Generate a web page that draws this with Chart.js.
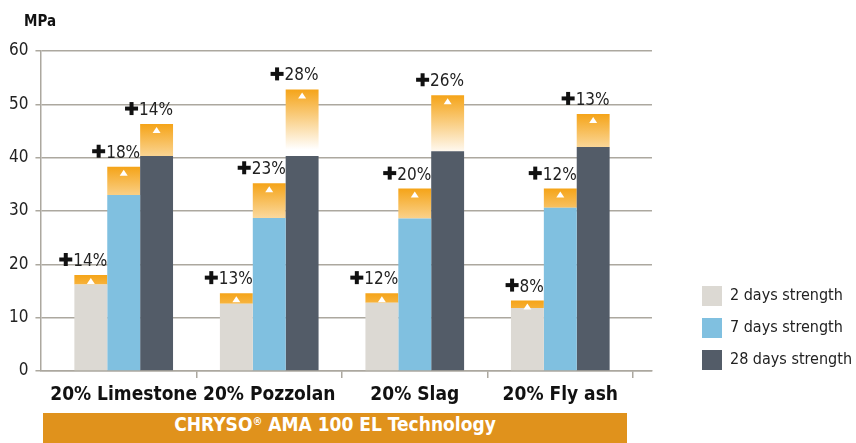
<!DOCTYPE html>
<html>
<head>
<meta charset="utf-8">
<script src="https://cdn.jsdelivr.net/npm/chart.js@4.4.1/dist/chart.umd.min.js"></script>
<style>
html, body { margin: 0; padding: 0; background: #fff; }
#wrap { position: relative; width: 856px; height: 443px; }
#banner {
  position: absolute; left: 43px; top: 413px; width: 584px; height: 30px;
  background: #e0921c; color: #fff; text-align: center; line-height: 31px;
  font: bold 19px 'DejaVu Sans Condensed', sans-serif;
}
#banner sup { font-size: 11px; vertical-align: 6px; line-height: 0; }
</style>
</head>
<body>
<div id="wrap">
  <canvas id="strength-chart" width="856" height="443"></canvas>
  <div id="banner">CHRYSO<sup>®</sup> AMA 100 EL Technology</div>
</div>
<script>
var categories = ['20% Limestone', '20% Pozzolan', '20% Slag', '20% Fly ash'];
var seriesNames = ['2 days strength', '7 days strength', '28 days strength'];

// MPa, reference mix
var ref2 = [16.2, 12.6, 12.8, 11.8];
var ref7 = [33.0, 28.7, 28.6, 30.6];
var ref28 = [40.3, 40.3, 41.2, 42.0];
// MPa, with admixture (top of orange part)
var amp2 = [18.0, 14.6, 14.6, 13.2];
var amp7 = [38.3, 35.2, 34.2, 34.2];
var amp28 = [46.3, 52.8, 51.7, 48.2];
// gain printed above bars, %
var gain2 = [14, 13, 12, 8];
var gain7 = [18, 23, 20, 12];
var gain28 = [14, 28, 26, 13];

var yMax = 60, yStep = 10;

var FONT = "'DejaVu Sans Condensed', sans-serif";
var GRID = '#aca89f';
var ORANGE = '#f5a418';

var refs = [ref2, ref7, ref28];
var amps = [amp2, amp7, amp28];
var gains = [gain2, gain7, gain28];
var colors = ['#dcd9d3', '#80c0e0', '#535c68'];
var stacks = ['d2', 'd7', 'd28'];

function points(arr) {
  return arr.map(function (v, i) { return { x: i, y: v }; });
}

// orange part fades to white about 60px below its top
function incFill(k) {
  return function (ctx) {
    var chart = ctx.chart;
    if (!chart.chartArea || ctx.dataIndex === undefined) return ORANGE;
    var top = chart.scales.y.getPixelForValue(amps[k][ctx.dataIndex]);
    var g = chart.ctx.createLinearGradient(0, top, 0, top + 60);
    g.addColorStop(0, ORANGE);
    g.addColorStop(1, '#ffffff');
    return g;
  };
}

var datasets = [];
for (var k = 0; k < 3; k++) {
  datasets.push({
    label: seriesNames[k],
    data: points(refs[k]),
    backgroundColor: colors[k],
    stack: stacks[k]
  });
}
for (var k = 0; k < 3; k++) {
  datasets.push({
    label: '',
    data: points(amps[k].map(function (v, i) { return v - refs[k][i]; })),
    backgroundColor: incFill(k),
    stack: stacks[k]
  });
}

function drawPlus(c, x, y, s, t) {
  c.fillRect(x, y - t / 2, s, t);
  c.fillRect(x + s / 2 - t / 2, y - s / 2, t, s);
}

var gainLabels = {
  id: 'gainLabels',
  afterLayout: function (chart) {
    // legend sits flush with the bottom of the plot
    chart.legend.top += 11;
    chart.legend.bottom += 11;
  },
  afterDatasetsDraw: function (chart) {
    var c = chart.ctx;
    c.save();
    for (var k = 0; k < 3; k++) {
      var meta = chart.getDatasetMeta(k + 3);
      meta.data.forEach(function (el, i) {
        // small white arrow
        c.fillStyle = '#ffffff';
        c.beginPath();
        c.moveTo(el.x, el.y + 3);
        c.lineTo(el.x + 4, el.y + 9);
        c.lineTo(el.x - 4, el.y + 9);
        c.closePath();
        c.fill();
        // +xx% label
        c.font = '17px ' + FONT;
        var txt = gains[k][i] + '%';
        var tw = c.measureText(txt).width;
        var right = el.x + el.width / 2 + 1;
        var base = el.y - 9;
        var px = right - tw - 15;
        c.fillStyle = '#111';
        drawPlus(c, px, base - 6.5, 13, 4);
        c.fillStyle = '#222';
        c.textBaseline = 'alphabetic';
        c.fillText(txt, px + 14, base);
      });
    }
    c.font = 'bold 15px ' + FONT;
    c.fillStyle = '#111';
    c.fillText('MPa', 24, 26);
    c.restore();
  }
};

var xMin = -0.572, xMax = 3.63;

new Chart(document.getElementById('strength-chart'), {
  type: 'bar',
  data: { datasets: datasets },
  plugins: [gainLabels],
  options: {
    responsive: false,
    animation: false,
    layout: { padding: { left: 2, top: 51, right: -6, bottom: 38 } },
    datasets: { bar: { categoryPercentage: 0.678, barPercentage: 1, borderWidth: 0 } },
    plugins: {
      tooltip: { enabled: false },
      legend: {
        position: 'right',
        align: 'end',
        fullSize: false,
        labels: {
          boxWidth: 20,
          boxHeight: 20,
          padding: 12,
          color: '#222',
          font: { family: FONT, size: 16 },
          filter: function (item) { return item.datasetIndex < 3; }
        }
      }
    },
    scales: {
      x: {
        type: 'linear',
        position: 'bottom',
        min: xMin,
        max: xMax,
        bounds: 'data',
        offset: false,
        afterBuildTicks: function (s) {
          s.ticks = categories.map(function (c, i) { return { value: i + 0.5 }; });
        },
        ticks: { display: false },
        grid: { offset: false, drawOnChartArea: false, color: GRID, lineWidth: 1.5, tickLength: 7 },
        border: { color: GRID, width: 1.5 }
      },
      x2: {
        type: 'linear',
        position: 'bottom',
        min: xMin,
        max: xMax,
        bounds: 'data',
        offset: false,
        afterBuildTicks: function (s) {
          s.ticks = categories.map(function (c, i) { return { value: i }; });
        },
        ticks: {
          autoSkip: false,
          maxRotation: 0,
          padding: 0,
          color: '#111',
          font: { family: FONT, size: 19, weight: 'bold', lineHeight: 1 },
          callback: function (v) { return categories[v]; }
        },
        grid: { display: false },
        border: { display: false }
      },
      y: {
        stacked: true,
        min: 0,
        max: yMax,
        ticks: { stepSize: yStep, padding: 7, color: '#222', font: { family: FONT, size: 17 } },
        grid: { color: GRID, lineWidth: 1.5, tickLength: 5 },
        border: { color: GRID, width: 1.5 }
      },
      gap: {
        type: 'linear',
        display: false,
        position: 'right',
        min: 0,
        max: 1,
        afterFit: function (s) { s.width = 38; }
      }
    }
  }
});
</script>
</body>
</html>
